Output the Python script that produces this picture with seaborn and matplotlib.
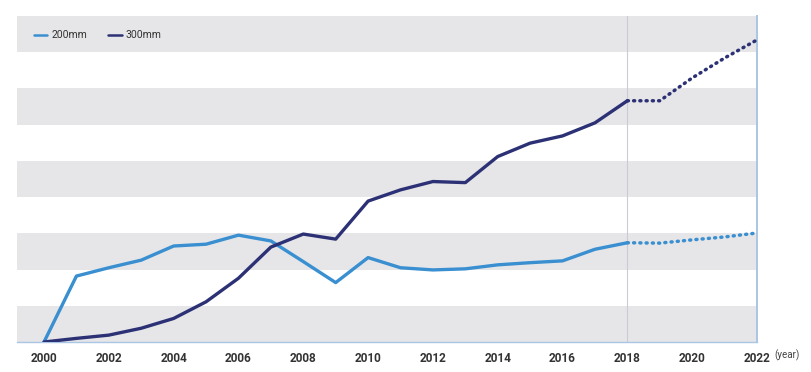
import numpy as np
import pandas as pd
import matplotlib
matplotlib.use("Agg")
import matplotlib.pyplot as plt
import seaborn as sns
from matplotlib.lines import Line2D

# values (one gray/white band = 1 unit)
years = list(range(2000, 2019))
wafer_200 = [0.0, 1.82, 2.05, 2.26, 2.65, 2.70, 2.95, 2.79, 2.22, 1.64,
             2.33, 2.05, 1.99, 2.02, 2.13, 2.19, 2.24, 2.56, 2.74]
wafer_300 = [0.0, 0.10, 0.19, 0.38, 0.65, 1.11, 1.76, 2.62, 2.98, 2.84,
             3.89, 4.20, 4.43, 4.40, 5.12, 5.49, 5.69, 6.05, 6.66]

proj_years = [2018, 2019, 2020, 2021, 2022]
proj_200 = [2.74, 2.73, 2.82, 2.90, 3.01]
proj_300 = [6.66, 6.66, 7.29, 7.84, 8.34]

tick_years = list(range(2000, 2023, 2))
series_names = ["200mm", "300mm"]
colors = {"200mm": "#3a8fd1", "300mm": "#2c3175"}

actual = pd.DataFrame({
    "year": years * 2,
    "value": wafer_200 + wafer_300,
    "series": ["200mm"] * len(years) + ["300mm"] * len(years),
})
projected = pd.DataFrame({
    "year": proj_years * 2,
    "value": proj_200 + proj_300,
    "series": ["200mm"] * len(proj_years) + ["300mm"] * len(proj_years),
})

sns.set_theme(style="white")
plt.rcParams["font.family"] = ["Roboto", "DejaVu Sans"]

fig = plt.figure(figsize=(8.12, 3.72), dpi=100)
ax = fig.add_axes([17 / 812, 1 - 342 / 372, (757 - 17) / 812, (342 - 16) / 372])

# alternating bands
for lo in range(0, 9, 2):
    ax.axhspan(lo, lo + 1, color="#e6e6e8", lw=0, zorder=0)

ax.axvline(2018, color="#c9ccd2", lw=0.8, zorder=1)

sns.lineplot(data=actual, x="year", y="value", hue="series", palette=colors,
             linewidth=2.4, legend=False, ax=ax, zorder=3,
             solid_capstyle="round", solid_joinstyle="round")
for name in series_names:
    sub = projected[projected["series"] == name]
    sns.lineplot(data=sub, x="year", y="value", color=colors[name],
                 linewidth=2.5, linestyle=(0, (0.3, 1.5)),
                 dash_capstyle="round", legend=False, ax=ax, zorder=3)

ax.set_xlim(2000 - 27 / 32.4, 2022)
ax.set_ylim(0, 9)
ax.set_xticks(tick_years)
ax.set_xticklabels([str(y) for y in tick_years], fontsize=8.5,
                   fontweight="semibold", color="#333333")
ax.set_yticks([])
ax.set_xlabel("")
ax.set_ylabel("")
ax.tick_params(axis="x", length=0, pad=7)

for side in ["top", "left"]:
    ax.spines[side].set_visible(False)
ax.spines["bottom"].set_color("#a9c6e4")
ax.spines["bottom"].set_linewidth(1.0)
ax.spines["right"].set_color("#a9c6e4")
ax.spines["right"].set_linewidth(1.4)

ax.text((774 - 17) / 740, (342 - 355) / 326, "(year)", transform=ax.transAxes,
        fontsize=7, color="#444444", va="center", ha="left")

handles = [Line2D([0], [0], color=colors[n], lw=1.8) for n in series_names]
ax.legend(handles, series_names, loc="upper left", bbox_to_anchor=(0.01, 0.985),
          ncol=2, frameon=False, fontsize=7.5, handlelength=1.3,
          handletextpad=0.4, columnspacing=2.0, labelcolor="#333333")

fig.savefig("out.png", dpi=100)
